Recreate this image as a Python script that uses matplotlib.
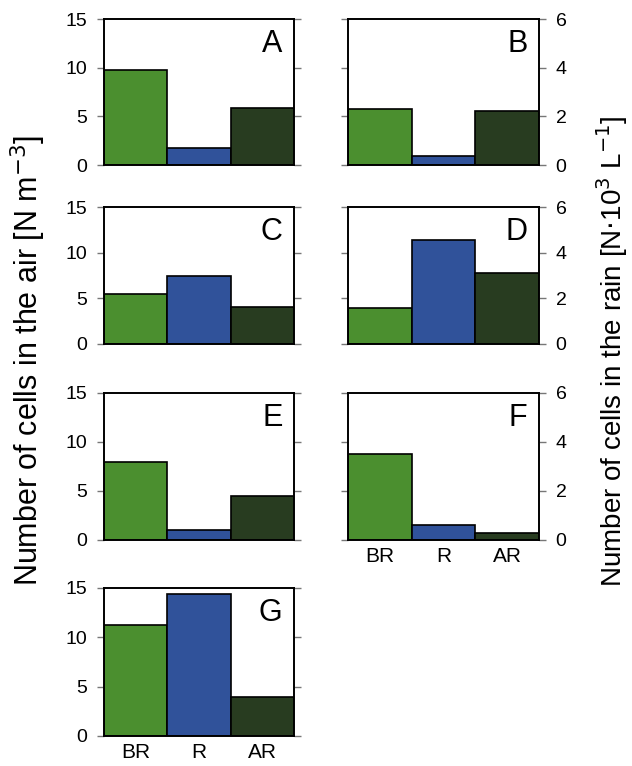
import matplotlib
matplotlib.use('Agg')
import matplotlib.pyplot as plt

plt.rcParams['font.family'] = ['Liberation Sans', 'DejaVu Sans']

# Данные
categories = ['BR', 'R', 'AR']
colors = ['#4b8f2f', '#30529a', '#283c20']

air_panels = ['A', 'C', 'E', 'G']
air_values = {
    'A': [9.8, 1.7, 5.9],
    'C': [5.5, 7.4, 4.05],
    'E': [7.95, 1.0, 4.5],
    'G': [11.2, 14.35, 4.0],
}
rain_panels = ['B', 'D', 'F']
rain_values = {
    'B': [2.3, 0.37, 2.22],
    'D': [1.58, 4.57, 3.12],
    'F': [3.53, 0.62, 0.27],
}
air_ticks = [0, 5, 10, 15]
rain_ticks = [0, 2, 4, 6]

W, H = 632, 766
fig = plt.figure(figsize=(W / 100, H / 100), dpi=100)

# (верх, низ) каждой строки в пикселях
rows = [(19, 165), (207, 344), (393, 540), (588, 736)]
left_x = (104, 294)
right_x = (348, 539)


def make_ax(xr, row):
    x0, x1 = xr
    top, bot = row
    return fig.add_axes([x0 / W, 1 - bot / H, (x1 - x0) / W, (bot - top) / H])


def draw_panel(ax, vals, letter, ymax, ticks, labels_right, show_x):
    ax.bar(range(len(categories)), vals, width=1.0, color=colors,
           edgecolor='black', linewidth=1.2)
    ax.set_xlim(-0.5, len(categories) - 0.5)
    ax.set_ylim(0, ymax)
    ax.set_yticks(ticks)
    for s in ax.spines.values():
        s.set_linewidth(1.4)
    ax.tick_params(axis='y', direction='out', length=5, width=1,
                   color='#777777', labelsize=14, left=True, right=True,
                   labelleft=not labels_right, labelright=labels_right, pad=7)
    ax.tick_params(axis='x', length=0, labelsize=15, pad=5)
    if show_x:
        ax.set_xticks(range(len(categories)))
        ax.set_xticklabels(categories)
    else:
        ax.set_xticks([])
    ax.text(0.94, 0.93, letter, transform=ax.transAxes, ha='right', va='top',
            fontsize=22)


for i, p in enumerate(air_panels):
    ax = make_ax(left_x, rows[i])
    draw_panel(ax, air_values[p], p, 15, air_ticks, False, p == 'G')

for i, p in enumerate(rain_panels):
    ax = make_ax(right_x, rows[i])
    draw_panel(ax, rain_values[p], p, 6, rain_ticks, True, p == 'F')

fig.text(28 / W, 1 - 360 / H, 'Number of cells in the air [N m$^{-3}$]',
         rotation=90, ha='center', va='center', fontsize=22)
fig.text(612 / W, 1 - 351 / H, r'Number of cells in the rain [N$\cdot$10$^{3}$ L$^{-1}$]',
         rotation=90, ha='center', va='center', fontsize=20)

fig.savefig('out.png', dpi=100)
